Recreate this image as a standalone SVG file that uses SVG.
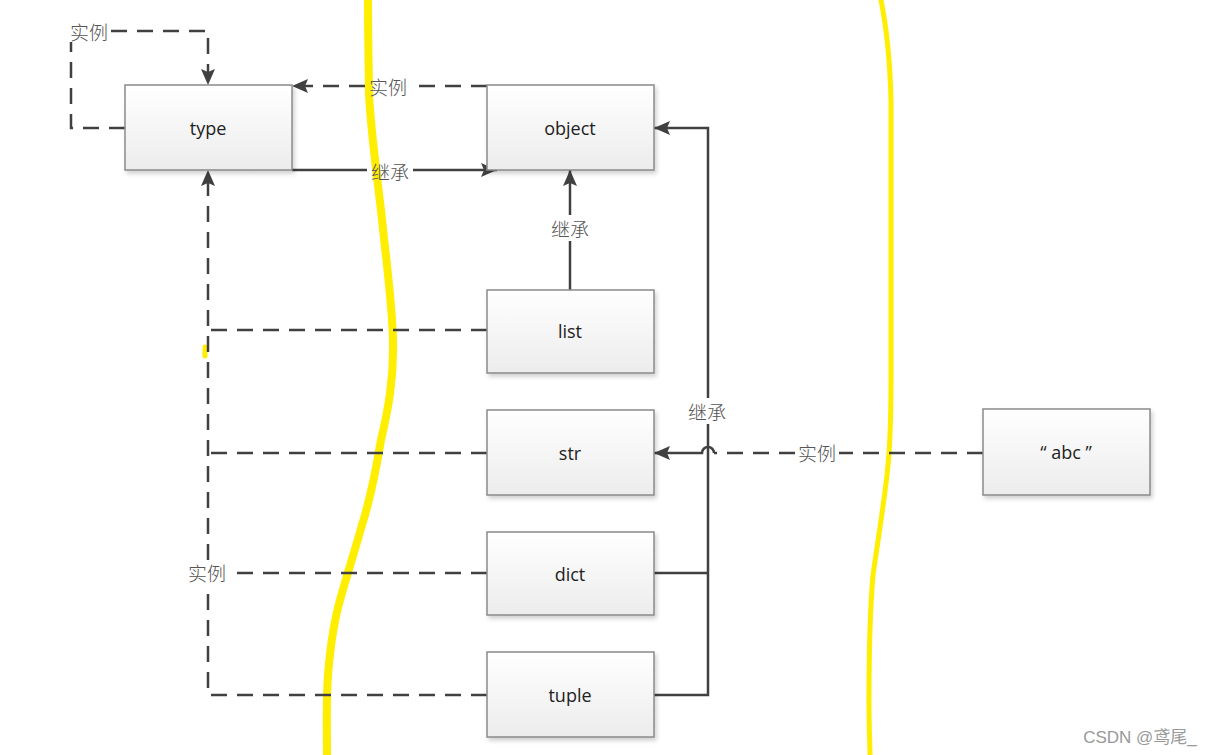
<svg xmlns="http://www.w3.org/2000/svg" width="1216" height="755" viewBox="0 0 1216 755">
<defs>
<linearGradient id="boxg" x1="0" y1="0" x2="0" y2="1">
<stop offset="0" stop-color="#ffffff"/>
<stop offset="1" stop-color="#ececec"/>
</linearGradient>
<filter id="sh" x="-10%" y="-10%" width="125%" height="130%">
<feDropShadow dx="2" dy="3" stdDeviation="2" flood-color="#000" flood-opacity="0.18"/>
</filter>
<marker id="ah" viewBox="0 0 16 14" refX="16" refY="7" markerWidth="16" markerHeight="14" markerUnits="userSpaceOnUse" orient="auto">
<path d="M0,0 L16,7 L0,14 L3,7 Z" fill="#404040"/>
</marker>
</defs>
<style>
.box{fill:url(#boxg);stroke:#8a8a8a;stroke-width:1.5;filter:url(#sh)}
.lbl{font-family:"Open Sans","Liberation Sans",sans-serif;font-size:18px;fill:#222;text-anchor:middle;dominant-baseline:central}
.cn{font-family:"Noto Sans CJK SC",sans-serif;font-size:19px;font-weight:300;fill:#555;text-anchor:middle;dominant-baseline:central}
.solid{fill:none;stroke:#404040;stroke-width:2.5}
.dash{fill:none;stroke:#404040;stroke-width:2.5;stroke-dasharray:16 10}
.hl{fill:none;stroke:#ffee00;stroke-linecap:round;stroke-linejoin:round}
</style>
<rect width="1216" height="755" fill="#ffffff"/>

<g id="highlights">
<path class="hl" stroke-width="8" d="M368,0 C368,40 369,80 369,95 C371,130 376,170 381,210 C386,260 392,300 393,340 C394,380 388,410 381,440 C376,470 370,500 362,525 C355,550 347,575 340,600 C333,625 330,650 328,675 C326,700 327,730 327,755"/>
<path class="hl" stroke-width="5" d="M881,0 C886,25 890,60 891,100 C891,200 891,300 891,380 C891,420 890,450 887,475 C883,510 878,540 873,575 C870,610 869,650 869,700 C869,730 870,745 870,755"/>
<path class="hl" stroke-width="5" d="M205,347 V356"/>
</g>

<g id="connectors">
<!-- type self loop -->
<path class="dash" d="M125,128 H71 V42"/>
<path class="dash" d="M111,31 H208 V85" marker-end="url(#ah)"/>
<text class="cn" x="89" y="31">实例</text>
<!-- object -> type instance -->
<path class="dash" d="M487,86 H411"/>
<path class="dash" d="M365,86 H292" marker-end="url(#ah)"/>
<text class="cn" x="388" y="86">实例</text>
<!-- type -> object inherit -->
<path class="solid" d="M292,170 H367"/>
<path class="solid" d="M413,170 H497" marker-end="url(#ah)"/>
<text class="cn" x="390" y="171">继承</text>
<!-- list -> object -->
<path class="solid" d="M570,290 V241"/>
<path class="solid" d="M570,215 V170" marker-end="url(#ah)"/>
<text class="cn" x="570" y="228">继承</text>
<!-- instances to type (left bus) -->
<path class="dash" d="M487,330 H208"/>
<path class="dash" d="M487,453 H208"/>
<path class="dash" d="M487,573 H230"/>
<path class="dash" d="M487,695 H208 V585"/>
<path class="dash" d="M208,560 V170" marker-end="url(#ah)"/>
<text class="cn" x="207" y="572">实例</text>
<!-- dict/tuple -> object -->
<path class="solid" d="M654,573 H708"/>
<path class="solid" d="M654,695 H708 V424"/>
<path class="solid" d="M708,398 V128 H654" marker-end="url(#ah)"/>
<text class="cn" x="707" y="411">继承</text>
<!-- "abc" -> str -->
<path class="dash" d="M983,453 H839"/>
<path class="dash" d="M795,453 H714"/>
<path class="solid" d="M714,453 A6,6 0 0 0 702,453 H654" marker-end="url(#ah)"/>
<text class="cn" x="817" y="452">实例</text>
</g>

<g id="node-type"><rect class="box" x="125" y="85" width="167" height="85"/><text class="lbl" x="208" y="128">type</text></g>
<g id="node-object"><rect class="box" x="487" y="85" width="167" height="85"/><text class="lbl" x="570" y="128">object</text></g>
<g id="node-list"><rect class="box" x="487" y="290" width="167" height="83"/><text class="lbl" x="570" y="331">list</text></g>
<g id="node-str"><rect class="box" x="487" y="410" width="167" height="85"/><text class="lbl" x="570" y="453">str</text></g>
<g id="node-dict"><rect class="box" x="487" y="532" width="167" height="83"/><text class="lbl" x="570" y="574">dict</text></g>
<g id="node-tuple"><rect class="box" x="487" y="652" width="167" height="85"/><text class="lbl" x="570" y="695">tuple</text></g>
<g id="node-abc"><rect class="box" x="983" y="409" width="167" height="86"/><text class="lbl" x="1066" y="452">“ abc ”</text></g>

<text x="1140" y="737" font-family="'Liberation Sans','Noto Sans CJK SC',sans-serif" font-size="17" fill="#999" text-anchor="middle" dominant-baseline="central">CSDN @鸢尾_</text>
</svg>
